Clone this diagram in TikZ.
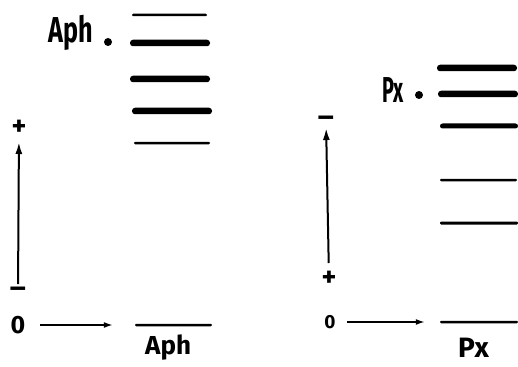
\documentclass[tikz,border=0pt]{standalone}
\usepackage{fontspec}
\setmainfont{Fira Sans}
\usepackage{graphicx}
\usetikzlibrary{arrows.meta}
\begin{document}
\begin{tikzpicture}[x=1pt,y=-1pt,
  lvlthick/.style={fill=black,rounded corners=3pt,minimum height=6.5pt,inner sep=0pt},
  lvlmid/.style={fill=black,rounded corners=2.5pt,minimum height=5pt,inner sep=0pt},
  lvlthin/.style={fill=black,rounded corners=1.2pt,minimum height=2.5pt,inner sep=0pt},
  lbl/.style={inner sep=0pt,font=\bfseries},
  signtxt/.style={inner sep=0pt,font=\bfseries\fontsize{28}{28}\selectfont},
  dotmark/.style={circle,fill=black,inner sep=0pt,minimum size=8pt},
  axis/.style={line width=2pt,-{Latex[length=12pt,width=7pt]}},
  harr/.style={line width=1.6pt,-{Latex[length=9pt,width=6pt]}},
]
\useasboundingbox (0,0) rectangle (518,366);

% ---------- left panel (Aph) ----------
\node[lvlthin,minimum width=75pt]  (a1) at (169.5,15) {};
\node[lvlthick,minimum width=80pt] (a2) at (170,43) {};
\node[lvlthick,minimum width=80pt] (a3) at (170,79) {};
\node[lvlthick,minimum width=80pt] (a4) at (172,111) {};
\node[lvlthin,minimum width=76pt]  (a5) at (172,143) {};
\node[lvlthin,minimum width=77pt]  (a0) at (173.5,325) {};

\node[lbl,anchor=base west] (aphtop) at (48,43)
  {\fontsize{36}{36}\selectfont\scalebox{0.7}[1]{Aph}};
\node[dotmark] (adot) at (108,42) {};

\node[lbl,anchor=base west] (aphbot) at (145,354)
  {\fontsize{26}{26}\selectfont Aph};

\node[signtxt] (aplus) at (19,128) {+};
\node[signtxt] (aminus) at (18,292) {\scalebox{1.1}[1]{--}};
\draw[axis,shorten <=8pt,shorten >=14pt] (aminus.center) -- (aplus.center);

\node[lbl] (azero) at (18,325) {\fontsize{25}{25}\selectfont 0};
\draw[harr,shorten <=22pt,shorten >=22pt] (azero.center) -- (a0.west);

% ---------- right panel (Px) ----------
\node[lvlthick,minimum width=80pt] (p1) at (477,68) {};
\node[lvlthick,minimum width=80pt] (p2) at (478,94) {};
\node[lvlmid,minimum width=78pt]   (p3) at (479,126) {};
\node[lvlthin,minimum width=77pt]  (p4) at (478.5,180) {};
\node[lvlthin,minimum width=78pt,minimum height=3pt] (p5) at (479,223) {};
\node[lvlthin,minimum width=78pt]  (p0) at (479,322) {};

\node[lbl,anchor=base west] (pxtop) at (382,103)
  {\fontsize{36}{36}\selectfont\scalebox{0.55}[1]{Px}};
\node[dotmark] (pdot) at (419,95) {};

\node[lbl,anchor=base west] (pxbot) at (458,357)
  {\fontsize{28}{28}\selectfont Px};

\node[signtxt] (pminus) at (326,121) {\scalebox{1.1}[1]{--}};
\node[signtxt] (pplus) at (329,279) {+};
\draw[axis,shorten <=16pt,shorten >=7pt] (pplus.center) -- (pminus.center);

\node[lbl] (pzero) at (330,322) {\fontsize{19}{19}\selectfont 0};
\draw[harr,shorten <=17pt,shorten >=15pt] (pzero.center) -- (p0.west);
\end{tikzpicture}
\end{document}
